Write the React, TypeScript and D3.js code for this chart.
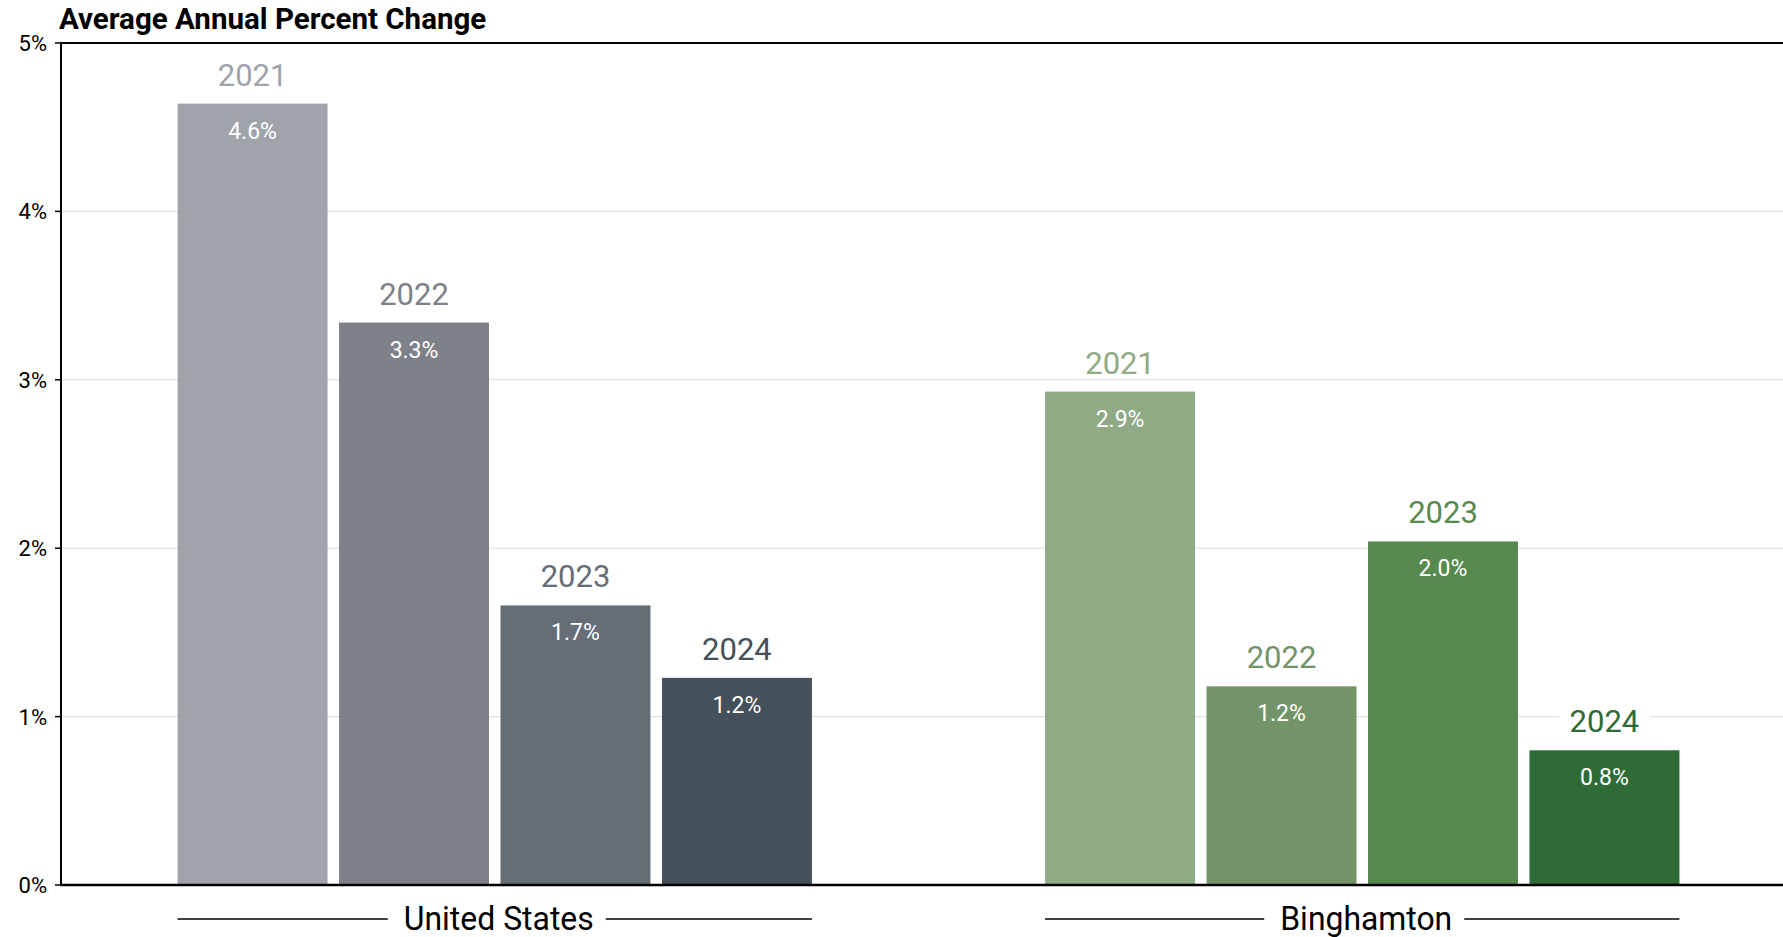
import React from "react";
import * as d3 from "d3";

const groups = ["United States", "Binghamton"];
const years = ["2021", "2022", "2023", "2024"];
const usValues = [4.64, 3.34, 1.66, 1.23];
const binghamtonValues = [2.93, 1.18, 2.04, 0.8];
const usColors = ["#a0a3aa", "#7e818a", "#666d77", "#44515a"];
const binghamtonColors = ["#8faa85", "#739469", "#578a4f", "#2f6b36"];
const yTicks = [0, 1, 2, 3, 4, 5];
const title = "Average Annual Percent Change";

const W = 1783;
const H = 937;
const left = 61;
const top = 43;
const bottom = 885;

export default function App() {
  const y = d3.scaleLinear().domain([0, 5]).range([bottom, top]);
  const x0 = d3.scaleBand<string>().domain(groups).range([left, left + 2 * 867.5]).padding(0);
  const x1 = d3
    .scaleBand<string>()
    .domain(years)
    .range([0, x0.bandwidth()])
    .paddingInner(0.0712)
    .paddingOuter(0.722);

  const series = [
    { name: groups[0], values: usValues, colors: usColors, textW: 190 },
    { name: groups[1], values: binghamtonValues, colors: binghamtonColors, textW: 172 },
  ];
  const font = "Roboto, 'Noto Sans', sans-serif";

  return (
    <svg
      width={W}
      height={H}
      style={{ position: "absolute", left: 0, top: 0, background: "#fff" }}
      fontFamily={font}
    >
      <text x={59} y={29} fontSize={29.5} fontWeight={700} fill="#000">
        {title}
      </text>
      {yTicks.map((t) => (
        <g key={t}>
          {t > 0 && t < 5 && (
            <line x1={left} x2={W} y1={y(t)} y2={y(t)} stroke="#dcdcdc" strokeWidth={1} />
          )}
          <line x1={left - 6} x2={left} y1={y(t)} y2={y(t)} stroke="#000" strokeWidth={1.5} />
          <text x={47} y={y(t)} dy="0.36em" textAnchor="end" fontSize={22} fill="#000">
            {t}%
          </text>
        </g>
      ))}
      {series.map((s) => {
        const gx = x0(s.name)!;
        const gStart = gx + x1(years[0])!;
        const gEnd = gx + x1(years[years.length - 1])! + x1.bandwidth();
        const cx = (gStart + gEnd) / 2 + 4;
        const half = s.textW / 2;
        return (
          <g key={s.name}>
            {s.values.map((v, i) => {
              const bx = gx + x1(years[i])!;
              const bw = x1.bandwidth();
              const by = y(v);
              const ly = by - 18;
              return (
                <g key={years[i]}>
                  <rect x={bx} y={by} width={bw} height={bottom - by} fill={s.colors[i]} />
                  <rect x={bx + bw / 2 - 45} y={ly - 26} width={90} height={30} fill="#fff" />
                  <text x={bx + bw / 2} y={ly} textAnchor="middle" fontSize={31} fill={s.colors[i]}>
                    {years[i]}
                  </text>
                  <text x={bx + bw / 2} y={by + 35} textAnchor="middle" fontSize={23} fill="#fff">
                    {v.toFixed(1)}%
                  </text>
                </g>
              );
            })}
            <line x1={gStart} x2={cx - half - 16} y1={919} y2={919} stroke="#000" strokeWidth={1.5} />
            <line x1={cx + half + 12} x2={gEnd} y1={919} y2={919} stroke="#000" strokeWidth={1.5} />
            <text
              x={cx}
              y={930}
              textAnchor="middle"
              fontSize={33}
              fill="#000"
              textLength={s.textW}
              lengthAdjust="spacingAndGlyphs"
            >
              {s.name}
            </text>
          </g>
        );
      })}
      <line x1={left} x2={W} y1={top} y2={top} stroke="#000" strokeWidth={2} />
      <line x1={left} x2={W} y1={bottom} y2={bottom} stroke="#000" strokeWidth={2.5} />
      <line x1={left} x2={left} y1={top - 1} y2={bottom + 1} stroke="#000" strokeWidth={2} />
    </svg>
  );
}
